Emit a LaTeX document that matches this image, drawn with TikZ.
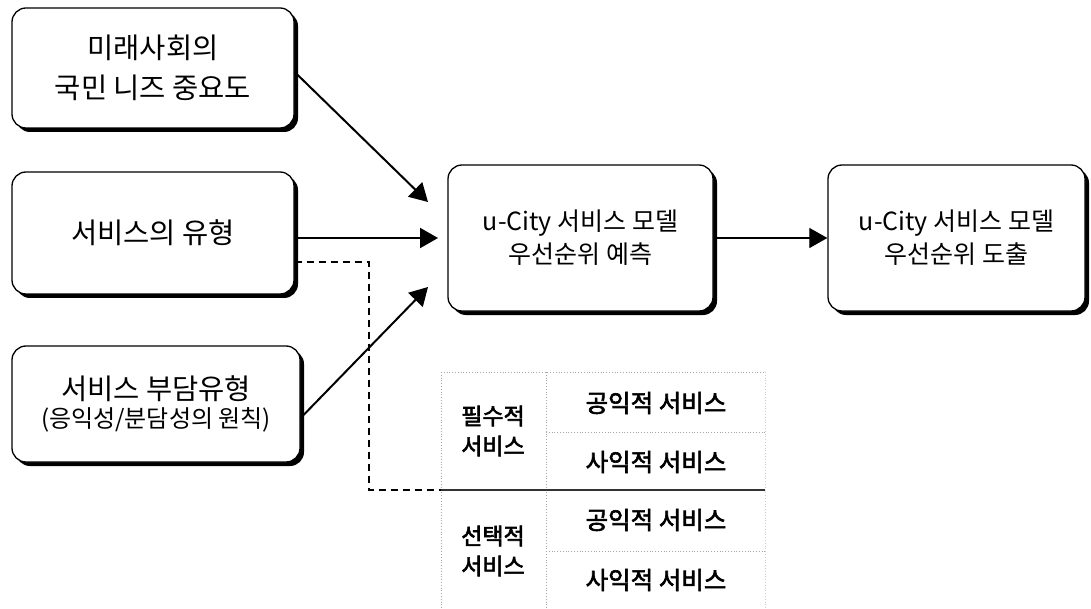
\documentclass[tikz,border=0pt]{standalone}
\usepackage{fontspec}
\setmainfont{Noto Sans CJK KR}
\newfontfamily\tblfont[FakeBold=2.5]{Noto Sans CJK KR}
\usetikzlibrary{arrows.meta,shadows}
\tikzset{
  box/.style={draw, line width=1.3pt, rounded corners=14pt, fill=white, align=center, inner sep=0pt,
    drop shadow={shadow xshift=4pt, shadow yshift=-4pt, fill=black, opacity=1}},
  conn/.style={line width=2pt, -{Triangle[length=18pt,width=20pt]}},
  thinconn/.style={line width=1.2pt, -{Triangle[length=18pt,width=20pt]}},
  dashconn/.style={line width=2pt, dash pattern=on 7pt off 5pt},
  tline/.style={line width=0.8pt, gray!70, dotted},
  tmid/.style={line width=1.1pt, black!80},
  tcell/.style={font=\tblfont\fontsize{23}{30}\selectfont, align=center, inner sep=0pt},
  tcellr/.style={font=\tblfont\fontsize{24.5}{30}\selectfont, align=center, inner sep=0pt},
}
\begin{document}
\begin{tikzpicture}[x=1pt,y=-1pt]
\useasboundingbox (0,0) rectangle (1091,609);
% boxes
\node[box, minimum width=282pt, minimum height=120pt, font=\fontsize{28.5}{40}\selectfont] (b1) at (153,68) {미래사회의\\국민 니즈 중요도};
\node[box, minimum width=282pt, minimum height=122pt, font=\fontsize{28.5}{33}\selectfont] (b2) at (153,233) {서비스의 유형};
\node[box, minimum width=288pt, minimum height=116pt] (b3) at (156,404)
  {\fontsize{28.5}{33}\selectfont 서비스 부담유형\\[5pt]\fontsize{24}{33}\selectfont (응익성/분담성의 원칙)};
\node[box, minimum width=265pt, minimum height=146pt, font=\fontsize{25}{33}\selectfont] (c) at (580.5,238) {u-City 서비스 모델\\우선순위 예측};
\node[box, minimum width=257pt, minimum height=146pt, font=\fontsize{25}{33}\selectfont] (r) at (956.5,238) {u-City 서비스 모델\\우선순위 도출};
% arrow end points
\coordinate (e1) at (428,202);
\coordinate (e2) at (438,238);
\coordinate (e3) at (428,287);
\coordinate (dc) at (369,490);
\coordinate (tl) at (441,490);
% connectors
\draw[conn] ([yshift=-4pt]b1.east) -- (e1);
\draw[conn] (b2.east |- e2) -- (e2);
\draw[conn] ([yshift=-14pt]b3.east) -- (e3);
\draw[thinconn] (c.east) -- (r.west);
\draw[dashconn] ([yshift=-29pt]b2.east) -| (dc) -- (tl);
% table
\draw[tline] (441,372) -- (765,372);
\draw[tline] (546,432) -- (765,432);
\draw[tline] (546,551) -- (765,551);
\draw[tline] (441,372) -- (441,609);
\draw[tline] (546,372) -- (546,609);
\draw[tline, gray!40] (765,372) -- (765,609);
\draw[tmid] (tl) -- (765,490);
\node[tcell] (t1) at (493,431) {필수적\\서비스};
\node[tcell] (t2) at (493,551) {선택적\\서비스};
\node[tcellr] (t11) at (656,403) {공익적 서비스};
\node[tcellr] (t12) at (656,462) {사익적 서비스};
\node[tcellr] (t21) at (656,520) {공익적 서비스};
\node[tcellr] (t22) at (656,580) {사익적 서비스};
\end{tikzpicture}
\end{document}
